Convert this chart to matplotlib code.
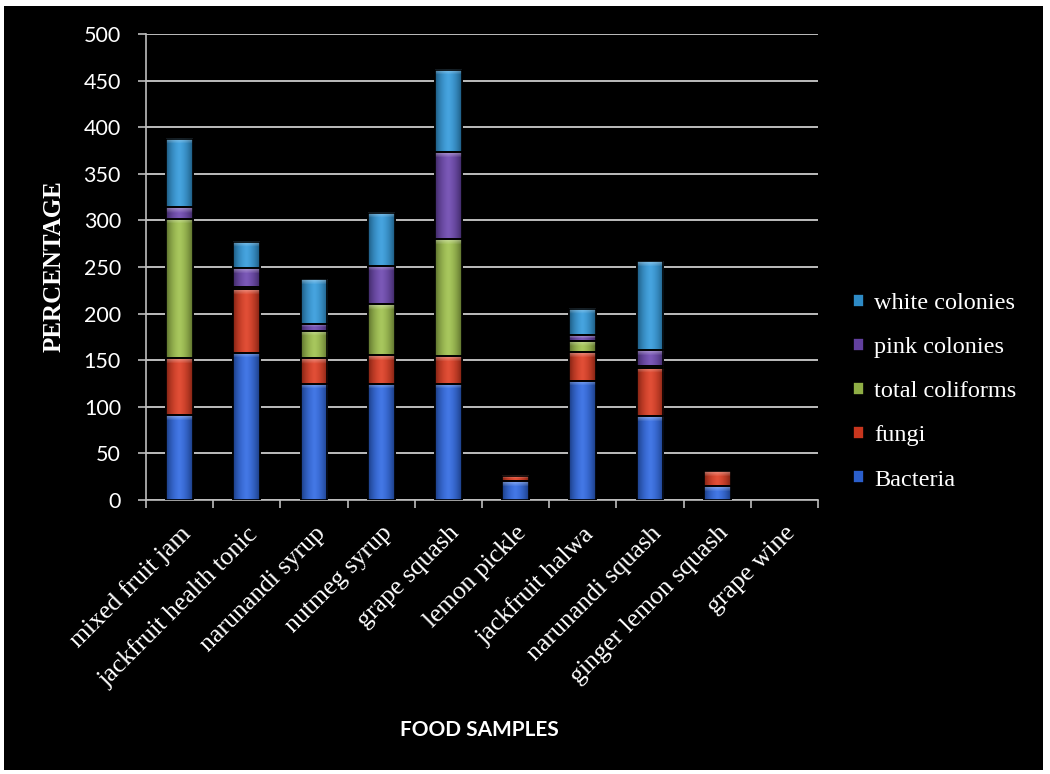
import numpy as np
import matplotlib.pyplot as plt
from matplotlib.colors import to_rgb
from matplotlib.patches import Rectangle

# food samples and stacked counts
samples = ["mixed fruit jam", "jackfruit health tonic", "narunandi syrup",
           "nutmeg syrup", "grape squash", "lemon pickle", "jackfruit halwa",
           "narunandi squash", "ginger lemon squash", "grape wine"]
bacteria = [91, 158, 125, 125, 125, 20, 128, 90, 15, 0]
fungi = [61, 68, 27, 31, 30, 6, 31, 52, 16, 0]
coliforms = [150, 3, 29, 54, 125, 0, 12, 2, 0, 0]
pink = [12, 20, 8, 41, 93, 0, 6, 17, 0, 0]
white = [73, 28, 48, 57, 88, 0, 28, 95, 0, 0]

series = [("Bacteria", bacteria, "#2b5fcc"),
          ("fungi", fungi, "#c8361e"),
          ("total coliforms", coliforms, "#8fae45"),
          ("pink colonies", pink, "#62409e"),
          ("white colonies", white, "#2e8bc6")]

PX_PER_UNIT = 466 / 500.0


def shade_bar(ax, rect, color):
    """paint a glossy gradient over one bar segment"""
    x0, y0 = rect.get_x(), rect.get_y()
    w, h = rect.get_width(), rect.get_height()
    if h <= 0:
        return
    rows = max(int(round(h * PX_PER_UNIT)), 2)
    rgb = np.array(to_rgb(color))
    t = np.linspace(-1, 1, 40)
    f = 1 - 0.35 * np.abs(t) ** 2
    line = rgb[None, :] * f[:, None] + 0.10 * (1 - np.abs(t))[:, None]
    img = np.repeat(line[None, :, :], rows, axis=0)
    cap = min(5, rows // 2)
    for r in range(cap):
        k = 0.35 * (1 - r / max(cap, 1))
        img[r] = img[r] * (1 - k) + k
    img = np.clip(img, 0, 1)
    ax.imshow(img, extent=[x0, x0 + w, y0, y0 + h], aspect="auto", origin="upper",
              interpolation="bilinear", zorder=3.5)


fig = plt.figure(figsize=(10.5, 7.74), dpi=100, facecolor="white")
fig.patches.append(Rectangle((0.004, 0.005), 0.989, 0.987, transform=fig.transFigure,
                             facecolor="black", edgecolor="none", zorder=-10))

ax = fig.add_axes([0.139, 0.354, 0.640, 0.602])
ax.set_facecolor("black")

x = list(range(len(samples)))
bottom = [0] * len(samples)
handles = []
for name, vals, col in series:
    lw = [1.2 if v > 0 else 0 for v in vals]
    h = ax.bar(x, vals, 0.4, bottom=bottom, color=col, edgecolor="black",
               linewidth=lw, label=name, zorder=3)
    handles.append(h)
    for rect in h:
        shade_bar(ax, rect, col)
    ax.bar(x, vals, 0.4, bottom=bottom, fill=False, edgecolor="black",
           linewidth=lw, zorder=4)
    bottom = [b + v for b, v in zip(bottom, vals)]

ax.set_ylim(0, 500)
ax.set_xlim(-0.5, len(samples) - 0.5)
ax.set_yticks(range(0, 501, 50))
ax.yaxis.grid(True, color="#bdbdbd", linewidth=1.4, zorder=0)
ax.set_axisbelow(True)

for s in ["top", "right"]:
    ax.spines[s].set_visible(False)
for s in ["left", "bottom"]:
    ax.spines[s].set_color("#bdbdbd")
    ax.spines[s].set_linewidth(1.2)

ax.tick_params(axis="y", colors="#bdbdbd", length=6, width=1.2, labelcolor="white",
               labelsize=15.5, pad=12)
for lab in ax.get_yticklabels():
    lab.set_family("Lato")

ax.set_xticks(x)
ax.set_xticks([i - 0.5 for i in range(len(samples) + 1)], minor=True)
ax.tick_params(axis="x", which="major", length=0, pad=16)
ax.tick_params(axis="x", which="minor", length=6, width=1.2, colors="#bdbdbd")
ax.set_xticklabels(samples, rotation=45, ha="right", rotation_mode="anchor",
                   color="white", fontsize=18.5, family="Liberation Serif")

fig.text(54 / 1050, 1 - 266 / 774, "PERCENTAGE", rotation=90, ha="center", va="center",
         color="white", fontsize=18, fontweight="bold", family="Liberation Serif")
fig.text(479 / 1050, 1 - 730 / 774, "FOOD SAMPLES", ha="center", va="center",
         color="white", fontsize=15, fontweight="bold", family="Lato")

leg = ax.legend(handles[::-1], [s[0] for s in series][::-1], loc="center left",
                bbox_to_anchor=(1.02, 0.232), frameon=False, handlelength=0.45,
                handleheight=0.45, handletextpad=0.4, labelspacing=0.95,
                prop={"family": "Liberation Serif", "size": 17.5})
for t in leg.get_texts():
    t.set_color("white")

plt.savefig("out.png", dpi=100, facecolor=fig.get_facecolor())
